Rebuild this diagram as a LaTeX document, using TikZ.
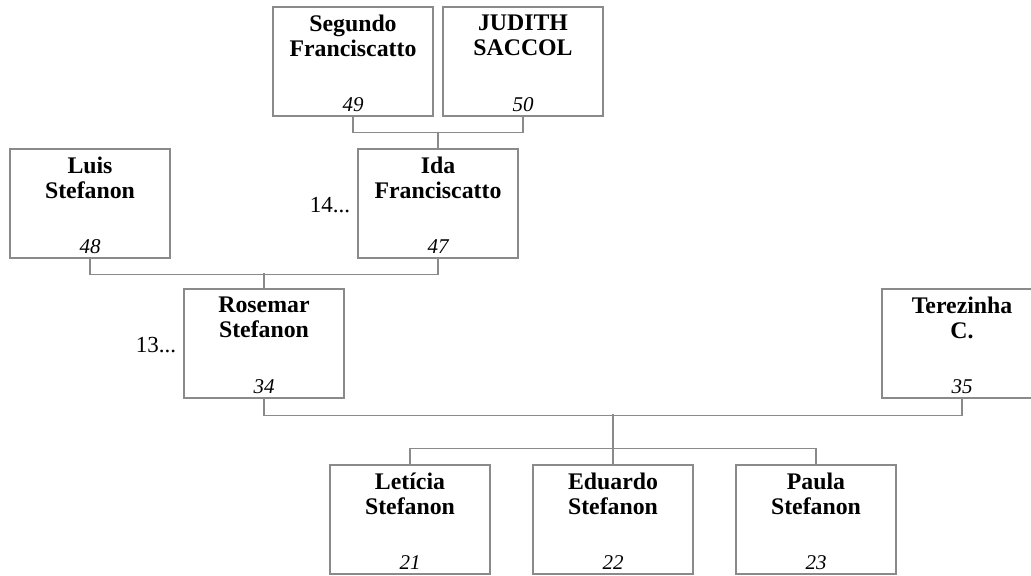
\documentclass[tikz,border=0pt]{standalone}
\usepackage{fontspec}
\setmainfont{Liberation Serif}
\usepackage{tikz}
\usetikzlibrary{positioning}
\definecolor{lineGray}{RGB}{138,138,138}
\tikzstyle{chart} = [x = .5pt, y = -.5pt]
\tikzstyle{personBoxStyle} = [draw=lineGray, fill=white, line width=.6pt, minimum width=80pt, minimum height=54.5pt, inner sep=0pt]
\tikzstyle{personName} = [anchor=north, align=center, inner sep=0pt, font=\fontsize{11.9}{12.5}\selectfont\bfseries]
\tikzstyle{personNumber} = [anchor=base, inner sep=0pt, font=\fontsize{10.5}{12}\selectfont\itshape]
\tikzstyle{moreText} = [inner sep=0pt, font=\fontsize{11.5}{13}\selectfont]
\tikzstyle{linkLine} = [color=lineGray, line width=.6pt]
\newcommand{\personBox}[5]{
  \node [personBoxStyle] (#1) at (#2,#3) {};
  \node [personName] (#1Name) at ([yshift=-3.9pt]#1.north) {#4};
  \node [personNumber] (#1Number) at ([yshift=2.5pt]#1.south) {#5};
}
\newcommand{\couple}[2]{\draw [linkLine] (#1.south) -- ++(0,16) -| (#2.south);}

\begin{document}
\begin{tikzpicture}[chart]
  \clip (0,0) rectangle (1031,575);
  % grandparents
  \personBox{segundo}{353}{61.5}{Segundo\\Franciscatto}{49}
  \personBox{judith}{523}{61.5}{JUDITH\\SACCOL}{50}
  % parents of Rosemar
  \personBox{luis}{90}{203.5}{Luis\\Stefanon}{48}
  \personBox{ida}{438}{203.5}{Ida\\Franciscatto}{47}
  \node [moreText, left=3.5pt of ida, yshift=-1pt] (idaMore) {14...};
  % couple
  \personBox{rosemar}{264}{343.5}{Rosemar\\Stefanon}{34}
  \personBox{terezinha}{962}{343.5}{Terezinha\\C.}{35}
  \node [moreText, left=3.5pt of rosemar, yshift=-1pt] (rosemarMore) {13...};
  % children
  \personBox{leticia}{410}{519.5}{Letícia\\Stefanon}{21}
  \personBox{eduardo}{613}{519.5}{Eduardo\\Stefanon}{22}
  \personBox{paula}{816}{519.5}{Paula\\Stefanon}{23}

  \couple{segundo}{judith}
  \draw [linkLine] (ida.north) -- ++(0,-16);
  \couple{luis}{ida}
  \draw [linkLine] (rosemar.north) -- ++(0,-15);
  \draw [linkLine] (rosemar.south) -- ++(0,17) -| (terezinha.south);
  \draw [linkLine] (eduardo.north) -- ++(0,-50);
  \draw [linkLine] (leticia.north) -- ++(0,-16) -| (paula.north);
\end{tikzpicture}
\end{document}
